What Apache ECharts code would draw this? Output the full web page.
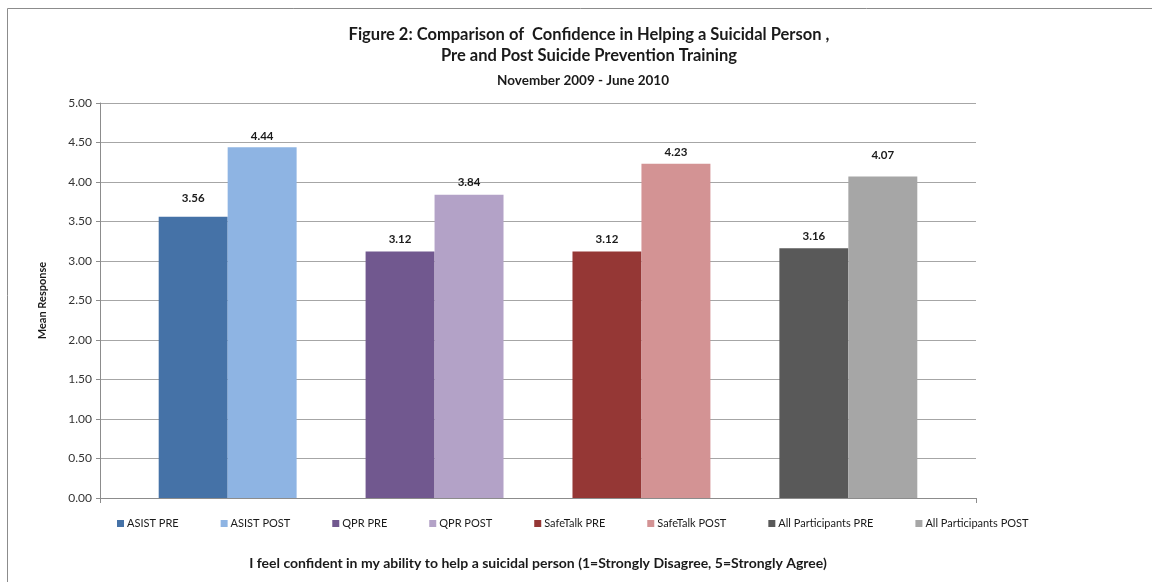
<!DOCTYPE html>
<html>
<head>
<meta charset="utf-8">
<script src="https://cdn.jsdelivr.net/npm/echarts@6/dist/echarts.min.js"></script>
<style>
  html, body { margin: 0; padding: 0; background: #fff; }
  #chart { width: 1152px; height: 582px; }
</style>
</head>
<body>
<div id="chart"></div>
<script>
// data
const seriesNames = ['ASIST PRE', 'ASIST POST', 'QPR PRE', 'QPR POST',
  'SafeTalk PRE', 'SafeTalk POST', 'All Participants PRE', 'All Participants POST'];
const meanValues = [3.56, 4.44, 3.12, 3.84, 3.12, 4.23, 3.16, 4.07];
const barColors = ['#4572A7', '#8EB4E3', '#71588F', '#B3A2C7',
  '#953735', '#D39394', '#595959', '#A6A6A6'];
const yTicks = { min: 0, max: 5, interval: 0.5 };

// some value labels sit a bit higher in the original
const labelLift = [6, -1, 0, 0, 0, 0, 0, 9.5];

const font = 'Lato, "Open Sans", sans-serif';

// one category, pairs of bars separated by an empty slot (as in the excel sheet)
let series = [];
seriesNames.forEach(function (name, i) {
  series.push({
    name: name,
    type: 'bar',
    data: [meanValues[i]],
    itemStyle: { color: barColors[i] },
    label: {
      show: true,
      position: 'top',
      distance: 6,
      offset: [0, -labelLift[i]],
      formatter: function (p) { return p.value.toFixed(2); },
      fontFamily: font,
      fontSize: 11.5,
      fontWeight: 'bold',
      color: '#1a1a1a'
    },
    barGap: 0,
    barCategoryGap: '13.4%'
  });
  if (i % 2 === 1 && i < seriesNames.length - 1) {
    series.push({ name: 'gap' + i, type: 'bar', data: ['-'], silent: true, barGap: 0, barCategoryGap: '13.4%' });
  }
});

let myChart = echarts.init(document.getElementById('chart'));
let option = {
  animation: false,
  graphic: [{
    type: 'rect',
    shape: { x: 7.5, y: 8.5, width: 1300, height: 700 },
    style: { fill: 'none', stroke: '#8c8c8c', lineWidth: 1 },
    silent: true
  }],
  title: [
    {
      text: 'Figure 2: Comparison of  Confidence in Helping a Suicidal Person ,\nPre and Post Suicide Prevention Training',
      left: 584, top: 19, textAlign: 'center',
      textStyle: { fontFamily: font, fontSize: 16.5, fontWeight: 'bold', color: '#1a1a1a', lineHeight: 21 }
    },
    {
      text: 'November 2009 - June 2010',
      left: 578, top: 69, textAlign: 'center',
      textStyle: { fontFamily: font, fontSize: 13.5, fontWeight: 'bold', color: '#1a1a1a' }
    }
  ],
  legend: {
    data: seriesNames,
    left: 112, top: 513,
    itemWidth: 7, itemHeight: 7, itemGap: 42,
    icon: 'rect',
    textStyle: { fontFamily: font, fontSize: 11, color: '#1a1a1a', padding: [0, 0, 0, -2] }
  },
  grid: { left: 100, right: 176, top: 103, bottom: 84 },
  xAxis: {
    type: 'category',
    data: [''],
    name: 'I feel confident in my ability to help a suicidal person (1=Strongly Disagree, 5=Strongly Agree)',
    nameLocation: 'middle',
    nameGap: 58,
    nameTextStyle: { fontFamily: font, fontSize: 14, fontWeight: 'bold', color: '#1a1a1a' },
    axisLine: { lineStyle: { color: '#8c8c8c' } },
    axisTick: { show: true, length: 5, lineStyle: { color: '#8c8c8c' } },
    axisLabel: { show: false }
  },
  yAxis: {
    type: 'value',
    min: yTicks.min, max: yTicks.max, interval: yTicks.interval,
    name: 'Mean Response',
    nameLocation: 'middle',
    nameGap: 52,
    nameTextStyle: { fontFamily: font, fontSize: 11, fontWeight: 'bold', color: '#1a1a1a' },
    axisLine: { show: true, lineStyle: { color: '#8c8c8c' } },
    axisTick: { show: true, length: 4, lineStyle: { color: '#8c8c8c' } },
    axisLabel: {
      formatter: function (v) { return v.toFixed(2); },
      fontFamily: font, fontSize: 12, color: '#333', margin: 8
    },
    splitLine: { lineStyle: { color: '#a6a6a6' } }
  },
  series: series
};
myChart.setOption(option);
</script>
</body>
</html>
